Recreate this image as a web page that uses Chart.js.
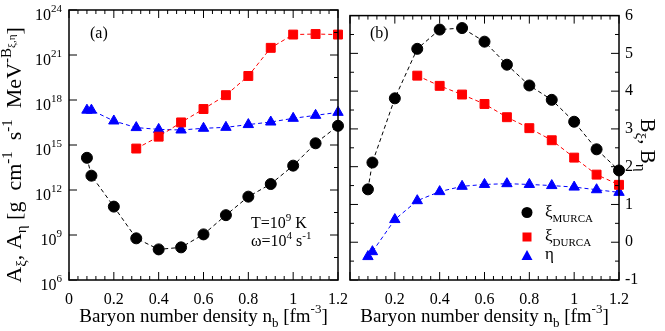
<!DOCTYPE html>
<html>
<head>
<meta charset="utf-8">
<script src="https://cdn.jsdelivr.net/npm/chart.js@4/dist/chart.umd.min.js"></script>
<style>
html, body { margin: 0; padding: 0; background: #fff; }
#wrap { position: relative; width: 665px; height: 331px; }
canvas { position: absolute; left: 0; top: 0; }
</style>
</head>
<body>
<div id="wrap">
  <canvas id="chart-a" width="665" height="331"></canvas>
  <canvas id="chart-b" width="665" height="331"></canvas>
</div>
<script>
// baryon number density n_b [fm^-3]
const nb = [0.08, 0.1, 0.2, 0.3, 0.4, 0.5, 0.6, 0.7, 0.8, 0.9, 1.0, 1.1, 1.2];
const nbDurca = [0.3, 0.4, 0.5, 0.6, 0.7, 0.8, 0.9, 1.0, 1.1, 1.2];

// panel (a): A_xi, A_eta
const aMurca = [1.4e14, 9e12, 7.8e10, 6e8, 1.1e8, 1.5e8, 1.1e9, 2.1e10, 3.6e11, 2.5e12, 4.2e13, 1.3e15, 1.9e16];
const aDurca = [5.8e14, 3.6e15, 3.2e16, 2.5e17, 2.1e18, 4e19, 3e21, 2.3e22, 2.5e22, 2.3e22];
const aEta = [2.1e17, 2.1e17, 4e16, 1.45e16, 1.1e16, 1.0e16, 1.3e16, 1.5e16, 2.3e16, 3.4e16, 6e16, 9.5e16, 1.5e17];

// panel (b): B_xi, B_eta
const bMurca = [1.4, 2.11, 3.81, 5.12, 5.63, 5.67, 5.31, 4.7, 4.15, 3.77, 3.19, 2.46, 1.9];
const bDurca = [4.41, 4.14, 3.91, 3.66, 3.31, 3.02, 2.7, 2.24, 1.79, 1.52];
const bEta = [-0.38, -0.25, 0.6, 1.1, 1.34, 1.48, 1.53, 1.55, 1.53, 1.5, 1.46, 1.39, 1.32];

const xTicks = [0, 0.2, 0.4, 0.6, 0.8, 1.0, 1.2];
const logTicks = [6, 9, 12, 15, 18, 21, 24];
const bTicks = [-1, 0, 1, 2, 3, 4, 5, 6];

const FONT = "'Liberation Serif', 'DejaVu Serif', serif";

function pts(xs, ys) {
    return xs.map((x, i) => ({x: x, y: ys[i]}));
}

function series(xs, ys, color, style, r) {
    return {
        data: pts(xs, ys),
        borderColor: color,
        borderWidth: 1,
        borderDash: [4, 3],
        pointStyle: style,
        pointRadius: r,
        pointBackgroundColor: color,
        pointBorderColor: color,
        pointBorderWidth: 1,
        tension: 0,
        clip: false
    };
}

// text with sub/superscripts: parts = [text, size, dy]
function rich(ctx, x, y, parts, align) {
    let w = 0;
    parts.forEach(p => { ctx.font = p[1] + 'px ' + FONT; w += ctx.measureText(p[0]).width; });
    let cx = align === 'center' ? x - w / 2 : (align === 'right' ? x - w : x);
    ctx.textAlign = 'left';
    ctx.textBaseline = 'alphabetic';
    ctx.fillStyle = '#000';
    parts.forEach(p => {
        ctx.font = p[1] + 'px ' + FONT;
        ctx.fillText(p[0], cx, y + (p[2] || 0));
        cx += ctx.measureText(p[0]).width;
    });
}

function xMinor() {
    const out = [];
    for (let i = 1; i < 30; i++) if (i % 5) out.push(i * 0.04);
    return out;
}

// frame and inward ticks
function frame(chart, o) {
    const ctx = chart.ctx, a = chart.chartArea;
    const xs = chart.scales.x, ys = chart.scales.y;
    ctx.save();
    ctx.strokeStyle = '#000';
    ctx.lineWidth = 1.5;
    ctx.strokeRect(a.left, a.top, a.right - a.left, a.bottom - a.top);
    ctx.lineWidth = 1;
    ctx.beginPath();
    const tx = (v, len) => {
        const p = xs.getPixelForValue(v);
        ctx.moveTo(p, a.bottom); ctx.lineTo(p, a.bottom - len);
        ctx.moveTo(p, a.top); ctx.lineTo(p, a.top + len);
    };
    xTicks.forEach(v => tx(v, 8));
    xMinor().forEach(v => tx(v, 4));
    const ty = (v, len, left, right) => {
        const p = ys.getPixelForValue(v);
        if (left) { ctx.moveTo(a.left, p); ctx.lineTo(a.left + len, p); }
        if (right) { ctx.moveTo(a.right, p); ctx.lineTo(a.right - len, p); }
    };
    o.yMajor.forEach(v => ty(v, 8, true, true));
    o.yMinor.forEach(v => ty(v, 4, o.minorLeft, true));
    ctx.stroke();
    ctx.restore();
}

function xTitle(ctx, cx) {
    rich(ctx, cx, 322, [['Baryon number density n', 19, 0], ['b', 13, 5],
        [' [fm', 19, 0], ['-3', 13, -9], [']', 19, 0]], 'center');
}

function xScale(hideZero) {
    return {
        type: 'linear',
        min: 0,
        max: 1.2,
        afterBuildTicks: s => { s.ticks = xTicks.map(v => ({value: v})); },
        afterFit: s => { s.height = 51; },
        grid: {display: false, drawTicks: false},
        border: {display: false},
        ticks: {
            color: '#000',
            font: {family: FONT, size: 16},
            padding: 10,
            maxRotation: 0,
            autoSkip: false,
            callback: v => (hideZero && v === 0) ? '' : String(+v.toFixed(1))
        }
    };
}

const panelA = {
    id: 'panelA',
    afterDraw(chart) {
        const ctx = chart.ctx, ys = chart.scales.y, a = chart.chartArea;
        frame(chart, {
            yMajor: logTicks.map(e => Math.pow(10, e)),
            yMinor: logTicks.slice(0, -1).map(e => Math.pow(10, e + 1.5)),
            minorLeft: false
        });
        ctx.save();
        logTicks.forEach(e => {
            const p = ys.getPixelForValue(Math.pow(10, e));
            rich(ctx, 62, p + 10, [['10', 16, 0], [String(e), 11, -8]], 'right');
        });
        rich(ctx, 90, 38, [['(a)', 16, 0]], 'left');
        rich(ctx, 251, 228, [['T=10', 16, 0], ['9', 11, -7], [' K', 16, 0]], 'left');
        rich(ctx, 251, 246, [['ω=10', 16, 0], ['4', 11, -7], [' s', 16, 0], ['-1', 11, -7]], 'left');
        xTitle(ctx, (a.left + a.right) / 2);
        ctx.translate(21, 155);
        ctx.rotate(-Math.PI / 2);
        rich(ctx, 0, 0, [['A', 22, 0], ['ξ', 15, 5], [', A', 22, 0], ['η', 15, 5],
            [' [g  cm', 22, 0], ['-1', 15, -9], ['  s', 22, 0], ['-1', 15, -9], ['  MeV', 22, 0],
            ['-B', 15, -10], ['ξ,η', 11, -6], [']', 22, 0]], 'center');
        ctx.restore();
    }
};

const panelB = {
    id: 'panelB',
    afterDraw(chart) {
        const ctx = chart.ctx, a = chart.chartArea;
        const minor = [];
        for (let v = -0.5; v < 6; v += 1) minor.push(v);
        frame(chart, {yMajor: bTicks, yMinor: minor, minorLeft: true});
        ctx.save();
        rich(ctx, 370, 38, [['(b)', 16, 0]], 'left');
        // legend
        ctx.fillStyle = '#000';
        ctx.beginPath(); ctx.arc(527, 212.5, 5.5, 0, Math.PI * 2); ctx.fill();
        ctx.fillStyle = '#ff0000';
        ctx.fillRect(522.5, 232.5, 9, 9);
        ctx.fillStyle = '#0000ff';
        ctx.beginPath(); ctx.moveTo(527, 250); ctx.lineTo(532.5, 260); ctx.lineTo(521.5, 260); ctx.closePath(); ctx.fill();
        rich(ctx, 545, 217, [['ξ', 17, 0], ['MURCA', 11, 5]], 'left');
        rich(ctx, 545, 241, [['ξ', 17, 0], ['DURCA', 11, 5]], 'left');
        rich(ctx, 545, 259, [['η', 17, 0]], 'left');
        xTitle(ctx, (a.left + a.right) / 2);
        ctx.translate(641, 145);
        ctx.rotate(Math.PI / 2);
        rich(ctx, 0, 0, [['B', 21, 0], ['ξ', 15, 5], [', B', 21, 0], ['η', 15, 5]], 'center');
        ctx.restore();
    }
};

new Chart(document.getElementById('chart-a'), {
    type: 'line',
    data: {
        datasets: [
            series(nb, aMurca, '#000000', 'circle', 5.5),
            series(nbDurca, aDurca, '#ff0000', 'rect', 6.3),
            series(nb, aEta, '#0000ff', 'triangle', 6)
        ]
    },
    options: {
        responsive: false,
        animation: false,
        events: [],
        layout: {padding: {left: 69, right: 327, top: 10, bottom: 0}},
        plugins: {legend: {display: false}, tooltip: {enabled: false}},
        scales: {
            x: xScale(false),
            y: {
                type: 'logarithmic',
                min: 1e6,
                max: 1e24,
                afterFit: s => { s.width = 0; },
                grid: {display: false, drawTicks: false},
                border: {display: false},
                ticks: {display: false}
            }
        }
    },
    plugins: [panelA]
});

new Chart(document.getElementById('chart-b'), {
    type: 'line',
    data: {
        datasets: [
            series(nb, bMurca, '#000000', 'circle', 5.5),
            series(nbDurca, bDurca, '#ff0000', 'rect', 6.3),
            series(nb, bEta, '#0000ff', 'triangle', 6)
        ]
    },
    options: {
        responsive: false,
        animation: false,
        events: [],
        layout: {padding: {left: 350, right: 0, top: 10, bottom: 0}},
        plugins: {legend: {display: false}, tooltip: {enabled: false}},
        scales: {
            x: xScale(true),
            y: {
                type: 'linear',
                position: 'right',
                min: -1,
                max: 6,
                afterBuildTicks: s => { s.ticks = bTicks.map(v => ({value: v})); },
                afterFit: s => { s.width = 46; },
                grid: {display: false, drawTicks: false},
                border: {display: false},
                ticks: {color: '#000', font: {family: FONT, size: 16}, padding: 6}
            }
        }
    },
    plugins: [panelB]
});
</script>
</body>
</html>
